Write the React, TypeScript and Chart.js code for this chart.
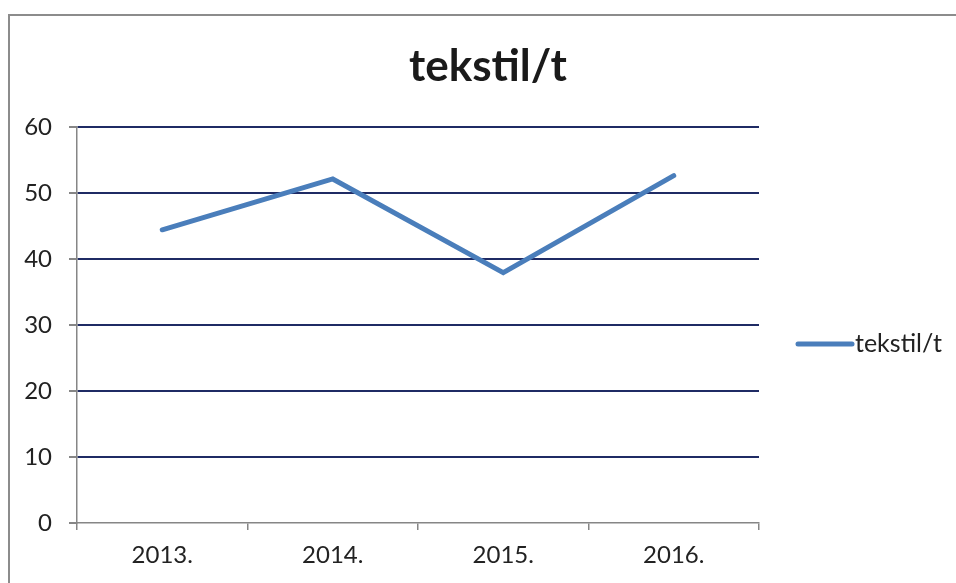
import React, { useEffect, useRef } from "react";
import { Chart, registerables } from "chart.js";

Chart.register(...registerables);

const categories = ["2013.", "2014.", "2015.", "2016."];
const seriesName = "tekstil/t";
const seriesValues = [44.4, 52.1, 37.9, 52.6];
const yTicks = [0, 10, 20, 30, 40, 50, 60];

const FONT = "Lato";
const LINE_COLOR = "#4a7ebb";
const GRID_COLOR = "#1f2b64";
const AXIS_COLOR = "#868686";

const frameAndLegend = {
  id: "frameAndLegend",
  afterDraw(chart: any) {
    const ctx = chart.ctx;
    ctx.save();
    ctx.strokeStyle = "#8c8c8c";
    ctx.lineWidth = 2;
    ctx.strokeRect(9, 15, 1200, 1200);
    const area = chart.chartArea;
    const y = 344;
    const x0 = area.right + 39;
    ctx.strokeStyle = LINE_COLOR;
    ctx.lineWidth = 5;
    ctx.lineCap = "round";
    ctx.beginPath();
    ctx.moveTo(x0, y);
    ctx.lineTo(x0 + 54, y);
    ctx.stroke();
    ctx.fillStyle = "#222";
    ctx.font = `25px ${FONT}`;
    ctx.textAlign = "left";
    ctx.textBaseline = "middle";
    ctx.fillText(seriesName, x0 + 57, y);
    ctx.restore();
  },
};

export default function App() {
  const ref = useRef<HTMLCanvasElement>(null);
  useEffect(() => {
    document.body.style.margin = "0";
    const chart = new Chart(ref.current!, {
      type: "line",
      data: {
        labels: categories,
        datasets: [
          {
            label: seriesName,
            data: seriesValues,
            borderColor: LINE_COLOR,
            backgroundColor: LINE_COLOR,
            borderWidth: 5,
            pointRadius: 0,
            tension: 0,
            borderCapStyle: "round",
            borderJoinStyle: "miter",
          },
        ],
      },
      options: {
        responsive: false,
        animation: false,
        layout: { padding: { left: 20, right: 0, top: 0, bottom: 0 } },
        plugins: {
          legend: { display: false },
          tooltip: { enabled: false },
          title: {
            display: true,
            text: seriesName,
            color: "#1a1a1a",
            font: { family: FONT, size: 44, weight: "bold", lineHeight: 1.2 },
            padding: { top: 40, bottom: 34 },
          },
        },
        scales: {
          x: {
            offset: true,
            afterFit: (s: any) => {
              s.height = 60;
            },
            grid: {
              offset: true,
              drawOnChartArea: false,
              drawTicks: true,
              tickLength: 7,
              tickColor: AXIS_COLOR,
              lineWidth: 1.5,
            },
            border: { display: true, color: AXIS_COLOR, width: 1.5 },
            ticks: {
              color: "#222",
              font: { family: FONT, size: 24 },
              padding: 11,
              maxRotation: 0,
            },
          },
          y: {
            min: 0,
            max: 60,
            afterFit: (s: any) => {
              s.width = 57;
            },
            afterBuildTicks: (s: any) => {
              s.ticks = yTicks.map((v) => ({ value: v }));
            },
            grid: {
              color: (c: any) => (c.tick && c.tick.value === 0 ? "rgba(0,0,0,0)" : GRID_COLOR),
              lineWidth: 2,
              tickLength: 8,
              tickColor: AXIS_COLOR,
            },
            border: { display: true, color: AXIS_COLOR, width: 1.5 },
            ticks: {
              color: "#222",
              font: { family: FONT, size: 24 },
              padding: 17,
            },
          },
          spacer: {
            type: "linear",
            position: "right",
            display: true,
            afterFit: (s: any) => {
              s.width = 197;
            },
            grid: { display: false, drawOnChartArea: false },
            border: { display: false },
            ticks: { display: false },
          },
        },
      },
      plugins: [frameAndLegend],
    });
    return () => chart.destroy();
  }, []);
  return (
    <div style={{ position: "fixed", left: 0, top: 0, width: 956, height: 583, background: "#fff" }}>
      <canvas ref={ref} width={956} height={583} />
    </div>
  );
}
